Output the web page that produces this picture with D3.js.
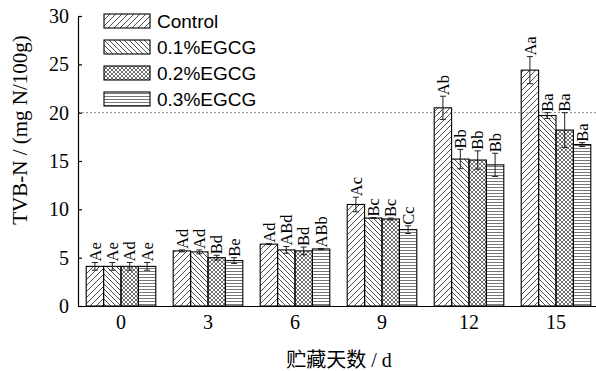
<!DOCTYPE html>
<html>
<head>
<meta charset="utf-8">
<script src="https://cdn.jsdelivr.net/npm/d3@7"></script>
<style>
  body { margin: 0; background: #fff; }
  .axis text { font-family: "Times New Roman", "Liberation Serif", serif; font-size: 20px; fill: #000; }
  .axis path, .axis line { stroke: #000; stroke-width: 1.2; }
</style>
</head>
<body>
<div id="chart"></div>
<script>
// storage days (categories)
var days = ["0", "3", "6", "9", "12", "15"];
var groups = ["Control", "0.1%EGCG", "0.2%EGCG", "0.3%EGCG"];

// TVB-N means per group, one value per day
var control = [4.1, 5.7, 6.4, 10.5, 20.5, 24.4];
var egcg01  = [4.1, 5.6, 5.8, 9.1, 15.2, 19.7];
var egcg02  = [4.1, 5.0, 5.7, 9.0, 15.1, 18.2];
var egcg03  = [4.1, 4.7, 5.9, 7.9, 14.6, 16.7];

// standard deviations
var controlErr = [0.4, 0.1, 0.05, 0.75, 1.2, 1.4];
var egcg01Err  = [0.4, 0.2, 0.35, 0.05, 1.0, 0.3];
var egcg02Err  = [0.4, 0.25, 0.4, 0.1, 0.95, 1.8];
var egcg03Err  = [0.4, 0.3, 0.05, 0.4, 1.2, 0.2];

// significance letters
var controlSig = ["Ae", "Ad", "Ad", "Ac", "Ab", "Aa"];
var egcg01Sig  = ["Ae", "Ad", "ABd", "Bc", "Bb", "Ba"];
var egcg02Sig  = ["Ad", "Bd", "Bd", "Bc", "Bb", "Ba"];
var egcg03Sig  = ["Ae", "Be", "ABb", "Cc", "Bb", "Ba"];

var yTicks = [0, 5, 10, 15, 20, 25, 30];
var limitValue = 20;

var values = [control, egcg01, egcg02, egcg03];
var errs = [controlErr, egcg01Err, egcg02Err, egcg03Err];
var sigs = [controlSig, egcg01Sig, egcg02Sig, egcg03Sig];

var W = 596, H = 371;

var svg = d3.select("#chart").append("svg")
    .attr("width", W)
    .attr("height", H);

// hatch patterns
var defs = svg.append("defs");
function hatch(id, size, d, color, sw) {
    defs.append("pattern")
        .attr("id", id)
        .attr("patternUnits", "userSpaceOnUse")
        .attr("width", size)
        .attr("height", size)
      .append("path")
        .attr("d", d)
        .attr("stroke", color)
        .attr("stroke-width", sw)
        .attr("fill", "none");
}
hatch("p0", 6, "M0,6L6,0M-1.5,1.5L1.5,-1.5M4.5,7.5L7.5,4.5", "#222", 0.8);
hatch("p1", 5, "M0,0L5,5M-1.25,3.75L1.25,6.25M3.75,-1.25L6.25,1.25", "#222", 0.8);
hatch("p2", 4, "M0,4L4,0M-1,1L1,-1M3,5L5,3M0,0L4,4M-1,3L1,5M3,-1L5,1", "#333", 0.7);
hatch("p3", 3, "M0,1.5L3,1.5", "#555", 0.8);
var fills = ["url(#p0)", "url(#p1)", "url(#p2)", "url(#p3)"];

// scales
var x = d3.scaleBand()
    .domain(days)
    .range([77.5, 599.5])
    .paddingInner(0.2)
    .paddingOuter(0.1);

var xSub = d3.scaleBand()
    .domain(d3.range(groups.length))
    .range([0, x.bandwidth()]);

var y = d3.scaleLinear()
    .domain([0, 30])
    .range([306, 16]);

// reference line at 20
svg.append("line")
    .attr("x1", 78)
    .attr("x2", W)
    .attr("y1", y(limitValue))
    .attr("y2", y(limitValue))
    .attr("stroke", "#888")
    .attr("stroke-width", 1)
    .attr("stroke-dasharray", "2,2");

// bars
for (var g = 0; g < groups.length; g++) {
    var data = days.map(function(d, i) {
        return { day: d, v: values[g][i], e: errs[g][i], s: sigs[g][i] };
    });
    var layer = svg.append("g");
    var gx = function(d) { return x(d.day) + xSub(g); };

    layer.selectAll("rect")
        .data(data)
        .enter()
        .append("rect")
        .attr("x", gx)
        .attr("y", function(d) { return y(d.v); })
        .attr("width", xSub.bandwidth())
        .attr("height", function(d) { return y(0) - y(d.v); })
        .attr("fill", fills[g])
        .attr("stroke", "#000")
        .attr("stroke-width", 1.1);

    var cx = function(d) { return x(d.day) + xSub(g) + xSub.bandwidth() / 2; };

    // error bars
    layer.selectAll("line.err")
        .data(data)
        .enter()
        .append("line")
        .attr("class", "err")
        .attr("x1", cx).attr("x2", cx)
        .attr("y1", function(d) { return y(d.v + d.e); })
        .attr("y2", function(d) { return y(d.v - d.e); })
        .attr("stroke", "#222");
    layer.selectAll("line.cap")
        .data(data.concat(data))
        .enter()
        .append("line")
        .attr("class", "cap")
        .attr("x1", function(d) { return cx(d) - 3; })
        .attr("x2", function(d) { return cx(d) + 3; })
        .attr("y1", function(d, i) { return i < data.length ? y(d.v + d.e) : y(d.v - d.e); })
        .attr("y2", function(d, i) { return i < data.length ? y(d.v + d.e) : y(d.v - d.e); })
        .attr("stroke", "#222");

    // significance letters
    layer.selectAll("text")
        .data(data)
        .enter()
        .append("text")
        .attr("transform", function(d) {
            return "translate(" + cx(d) + "," + (y(d.v + d.e) - 1) + ") rotate(-90)";
        })
        .attr("dy", "0.35em")
        .attr("text-anchor", "start")
        .attr("font-family", "'Times New Roman', 'Liberation Serif', serif")
        .attr("font-size", "16.5px")
        .text(function(d) { return d.s; });
}

// axes
svg.append("g")
    .attr("class", "axis")
    .attr("transform", "translate(0,306)")
    .call(d3.axisBottom(x).tickSize(0).tickPadding(9));

svg.append("g")
    .attr("class", "axis")
    .attr("transform", "translate(78,0)")
    .call(d3.axisLeft(y).tickValues(yTicks).tickSizeInner(-4).tickSizeOuter(0).tickPadding(9));

// axis titles
svg.append("text")
    .attr("transform", "translate(20,130) rotate(-90)")
    .attr("text-anchor", "middle")
    .attr("dy", "0.35em")
    .attr("font-family", "'Times New Roman', 'Liberation Serif', serif")
    .attr("font-size", "21px")
    .text("TVB-N / (mg N/100g)");

svg.append("text")
    .attr("x", 339)
    .attr("y", 367)
    .attr("text-anchor", "middle")
    .attr("font-family", "'Liberation Serif', 'Noto Sans CJK SC', serif")
    .attr("font-size", "20px")
    .text("贮藏天数 / d");

// legend
var legend = svg.append("g")
    .attr("transform", "translate(104,14)");
var items = legend.selectAll("g")
    .data(groups)
    .enter()
    .append("g")
    .attr("transform", function(d, i) { return "translate(0," + (i * 26) + ")"; });
items.append("rect")
    .attr("width", 46)
    .attr("height", 14)
    .attr("fill", function(d, i) { return fills[i]; })
    .attr("stroke", "#000")
    .attr("stroke-width", 1.1);
items.append("text")
    .attr("x", 53)
    .attr("y", 7)
    .attr("dy", "0.36em")
    .attr("font-family", "Arial, 'Liberation Sans', sans-serif")
    .attr("font-size", "19px")
    .text(function(d) { return d; });
</script>
</body>
</html>
